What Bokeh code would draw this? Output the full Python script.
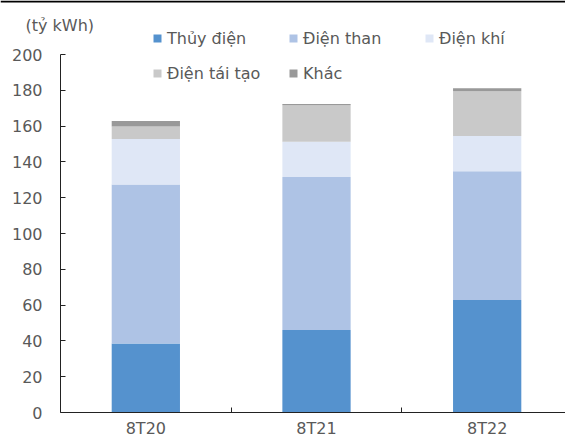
from bokeh.plotting import figure
from bokeh.models import (ColumnDataSource, Legend, LegendItem, FixedTicker, Label,
                          Range1d, Span)
from bokeh.embed import file_html
from bokeh.resources import INLINE

categories = ["8T20", "8T21", "8T22"]
series_names = ["Thủy điện", "Điện than", "Điện khí", "Điện tái tạo", "Khác"]
thuy_dien = [38.5, 46.1, 62.9]
dien_than = [88.9, 85.4, 71.9]
dien_khi = [25.4, 19.8, 19.6]
dien_tai_tao = [7.0, 20.4, 25.0]
khac = [3.1, 0.7, 1.7]
y_ticks = [0, 20, 40, 60, 80, 100, 120, 140, 160, 180, 200]
unit_label = "(tỷ kWh)"

colors = ["#5592CE", "#AEC3E5", "#DFE7F6", "#C9C9C9", "#999999"]
FONT = "DejaVu Sans"
TXT = "#595959"

W, H = 565, 439
X0, Y0 = 60, 412          # pixel position of the data origin
Y_TOP = 54                # pixel position of the top tick
PX_CAT = 170.67
PX_UNIT = (Y0 - Y_TOP) / max(y_ticks)

keys = ["s0", "s1", "s2", "s3", "s4"]
ncat = len(categories)
xpos = [i + 0.5 for i in range(ncat)]
src = ColumnDataSource(dict(x=xpos, s0=thuy_dien, s1=dien_than, s2=dien_khi,
                            s3=dien_tai_tao, s4=khac))

p = figure(width=W, height=H, output_backend="svg", toolbar_location=None,
           x_range=Range1d(-X0 / PX_CAT, (W - X0) / PX_CAT),
           y_range=Range1d(-(H - Y0) / PX_UNIT, Y0 / PX_UNIT),
           min_border_left=0, min_border_right=0, min_border_top=0,
           min_border_bottom=0)
p.outline_line_color = None
p.xgrid.grid_line_color = None
p.ygrid.grid_line_color = None

renderers = p.vbar_stack(keys, x="x", width=0.4, source=src, color=colors,
                         line_color=None)

# axes (placed inside the frame so all texts stay visible)
p.yaxis.fixed_location = 0
p.yaxis.bounds = (0, max(y_ticks))
p.yaxis.ticker = FixedTicker(ticks=y_ticks)
p.yaxis.major_tick_in = 5
p.yaxis.major_tick_out = 0
p.yaxis.minor_tick_line_color = None
p.yaxis.axis_line_color = "#222222"
p.yaxis.major_tick_line_color = "#222222"
p.yaxis.major_label_text_font = FONT
p.yaxis.major_label_text_font_size = "16px"
p.yaxis.major_label_text_color = TXT
p.yaxis.major_label_standoff = 18

p.xaxis.fixed_location = 0
p.xaxis.bounds = (0, ncat)
p.xaxis.ticker = FixedTicker(ticks=xpos, minor_ticks=[i + 1.0 for i in range(ncat)])
p.xaxis.major_label_overrides = {x: c for x, c in zip(xpos, categories)}
p.xaxis.major_tick_line_color = None
p.xaxis.major_tick_in = 0
p.xaxis.major_tick_out = 0
p.xaxis.minor_tick_in = 5
p.xaxis.minor_tick_out = 0
p.xaxis.minor_tick_line_color = "#222222"
p.xaxis.axis_line_color = "#222222"
p.xaxis.major_label_text_font = FONT
p.xaxis.major_label_text_font_size = "16px"
p.xaxis.major_label_text_color = TXT
p.xaxis.major_label_standoff = 6

items = [LegendItem(label=n, renderers=[r]) for n, r in zip(series_names, renderers)]
legend = Legend(items=items, orientation="horizontal", nrows=2,
                location=(152, H - 83), padding=0, margin=0,
                border_line_color=None, background_fill_alpha=0,
                glyph_width=10, glyph_height=10, label_standoff=5,
                label_width=106, label_height=20, spacing=15,
                label_text_font=FONT, label_text_font_size="16px",
                label_text_color=TXT)
p.add_layout(legend, "center")

p.add_layout(Label(x=(25 - X0) / PX_CAT, y=(Y0 - 25) / PX_UNIT, text=unit_label,
                   text_baseline="middle", text_font=FONT, text_font_size="16px",
                   text_color=TXT))

# dark rule along the top edge of the picture
p.add_layout(Span(location=(Y0 - 1) / PX_UNIT, dimension="width",
                  line_color="black", line_width=2))

open("out.html", "w").write(file_html(p, INLINE))
